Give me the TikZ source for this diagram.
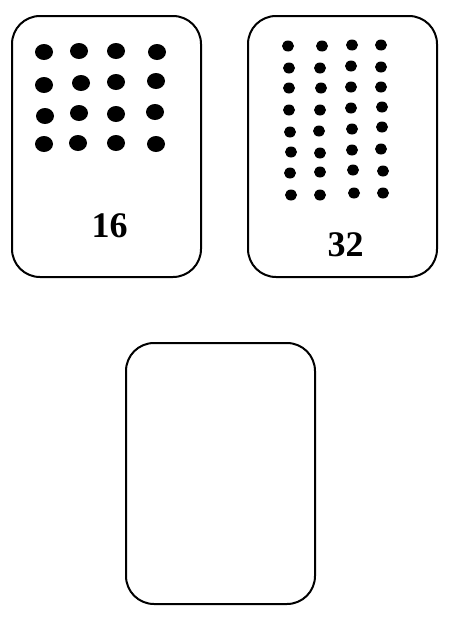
\documentclass[tikz,border=0pt]{standalone}
\usepackage{fontspec}
\setmainfont{Liberation Serif}
\usetikzlibrary{positioning}
\tikzset{
  card/.style={draw, line width=2pt, rounded corners=28pt, minimum width=189pt, minimum height=261pt},
  cardnum/.style={font=\bfseries\fontsize{36}{40}\selectfont},
}
\begin{document}
\begin{tikzpicture}[x=1pt, y=-1pt]
	\useasboundingbox (0,0) rectangle (455,621);

	\node[card] (left) at (106.5,146.5) {};
	\node[card] (right) at (342.5,146.5) {};
	\node[card] (blank) at (220.5,473.5) {};

	% 16 big dots
	\foreach \p in {(44,52),(79,51),(116,51),(157,52),
	                (44,85),(81,83),(116,82),(156,81),
	                (45,116),(79,113),(116,114),(155,112),
	                (44,144),(78,143),(116,143),(156,144)}
		\fill \p ellipse [x radius=9, y radius=8];

	% 32 small dots
	\foreach \p in {(288,46),(322,46),(352,45),(381,45),
	                (289,68),(320,68),(351,66),(381,67),
	                (289,88),(321,88),(351,87),(381,87),
	                (289,110),(320,110),(351,108),(382,107),
	                (290,132),(319,131),(352,129),(382,127),
	                (291,152),(320,153),(352,150),(381,149),
	                (290,173),(320,172),(353,170),(383,171),
	                (291,195),(320,195),(354,193),(383,193)}
		\fill \p ellipse [x radius=6, y radius=5.5];

	\node[cardnum, above=37pt of left.south, xshift=3pt] (n16) {16};
	\node[cardnum, above=18pt of right.south, xshift=3pt] (n32) {32};
\end{tikzpicture}
\end{document}
